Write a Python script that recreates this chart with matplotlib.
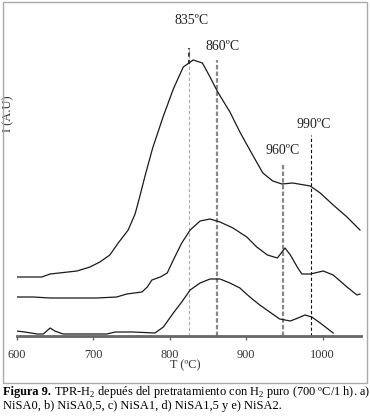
import matplotlib
matplotlib.use("Agg")
import matplotlib.pyplot as plt
from matplotlib.patches import Rectangle

plt.rcParams['font.family'] = ['Liberation Serif', 'DejaVu Serif']
plt.rcParams['mathtext.fontset'] = 'custom'
plt.rcParams['mathtext.rm'] = 'Liberation Serif'
plt.rcParams['mathtext.bf'] = 'Liberation Serif:bold'

# curve a (top)
temp_a = [600, 633, 644, 679, 696, 709, 722, 733, 746, 755, 761, 768, 778, 792, 805,
          818, 831, 843, 853, 863, 879, 892, 905, 922, 935, 947, 961, 984, 997, 1014,
          1032, 1049]
int_a = [59, 59, 62, 65, 69, 74, 81, 93, 106, 122, 139, 160, 188, 220, 247,
         269, 276, 273, 259, 244, 224, 204, 186, 163, 155, 152, 153, 150, 143, 131,
         119, 106]

# curve b (middle)
temp_b = [600, 622, 644, 705, 731, 744, 764, 771, 777, 788, 797, 805, 816, 827, 840,
          853, 866, 883, 901, 914, 928, 941, 947, 951, 958, 967, 973, 984, 1001, 1014,
          1032, 1045, 1049]
int_b = [39, 39, 38, 38, 39, 42, 44, 49, 56, 59, 63, 76, 93, 106, 115,
         117, 114, 108, 99, 89, 81, 78, 84, 88, 81, 69, 62, 62, 65, 61,
         49, 41, 42]

# curve c (bottom)
temp_c = [600, 611, 627, 635, 644, 650, 661, 696, 718, 729, 752, 781, 792, 805, 816,
          827, 840, 853, 866, 879, 892, 905, 918, 931, 944, 958, 968, 977, 986, 997,
          1014]
int_c = [5, 4, 2, 2, 8, 5, 2, 2, 2, 4, 4, 3, 9, 23, 34,
         46, 53, 57, 57, 53, 48, 39, 31, 24, 17, 15, 18, 21, 19, 13,
         3]

# marked peaks: label, line position, line top, label position
peak_labels = ["835ºC", "860ºC", "960ºC", "990ºC"]
peak_x = [826, 862, 948, 985]
peak_top = [288, 276, 172, 201]
label_x = [829, 870, 948, 988]
label_y = [316, 289, 186, 211]

xticks = [600, 700, 800, 900, 1000]

W, H = 370, 416
fig = plt.figure(figsize=(W / 100, H / 100), dpi=100)
ax = fig.add_axes([16.5 / W, (H - 336) / H, 344.25 / W, 326 / H])
ax.set_xlim(600, 1050)
ax.set_ylim(0, 326)

# dashed reference lines
ax.vlines(peak_x[0], 0, peak_top[0], colors='#aaaaaa', linestyles=(0, (3, 2)), lw=0.8)
ax.vlines(peak_x[0], 272, peak_top[0], colors='#444444', linestyles=(0, (2, 1.5)), lw=1.5)
ax.vlines(peak_x[1], 0, peak_top[1], colors='#888888', linestyles=(0, (2, 1)), lw=1.6)
ax.vlines(peak_x[2], 0, peak_top[2], colors='#888888', linestyles=(0, (2, 1)), lw=1.6)
ax.vlines(peak_x[3], 0, peak_top[3], colors='#111111', linestyles=(0, (3, 2)), lw=0.8)

for t, i in [(temp_a, int_a), (temp_b, int_b), (temp_c, int_c)]:
    ax.plot(t, i, color='#1a1a1a', lw=0.9)

for lab, lx, ly in zip(peak_labels, label_x, label_y):
    ax.text(lx, ly, lab, ha='center', va='center', fontsize=10, color='#222222')

for s in ['left', 'right', 'top']:
    ax.spines[s].set_visible(False)
ax.spines['bottom'].set_color('#666666')
ax.spines['bottom'].set_linewidth(2)
ax.set_yticks([])
ax.set_xticks(xticks)
ax.tick_params(axis='x', direction='out', length=3, width=1, color='#666666',
               labelsize=8.8, labelcolor='#333333', pad=6)
ax.set_xlabel('T (ºC)', fontsize=8.8, color='#333333')
ax.xaxis.set_label_coords((185 - 16.5) / 344.25, (336 - 359) / 326)
ax.set_ylabel('I (A.U)', fontsize=9, color='#333333', va='center')
ax.yaxis.set_label_coords(-8 / 344.25, (336 - 114) / 326)

# frame around the chart
fig.patches.append(Rectangle((2.7 / W, 1 - 383 / H), 364.3 / W, 380.7 / H,
                             transform=fig.transFigure, fill=False,
                             edgecolor='#aaaaaa', lw=1))

# caption
t1 = fig.text(3 / W, 1 - 395 / H, 'Figura 9.', fontsize=8.8, fontweight='bold',
              va='baseline', ha='left')
fig.canvas.draw()
bb = t1.get_window_extent()
fig.text(bb.x1 / W + 3 / W, 1 - 395 / H,
         r'TPR-H$_2$ depués del pretratamiento con H$_2$ puro (700 ºC/1 h). a)',
         fontsize=8.9, va='baseline', ha='left')
fig.text(3 / W, 1 - 409 / H,
         'NiSA0, b) NiSA0,5, c) NiSA1, d) NiSA1,5 y e) NiSA2.',
         fontsize=8.9, va='baseline', ha='left')

fig.savefig('out.png', dpi=100)
